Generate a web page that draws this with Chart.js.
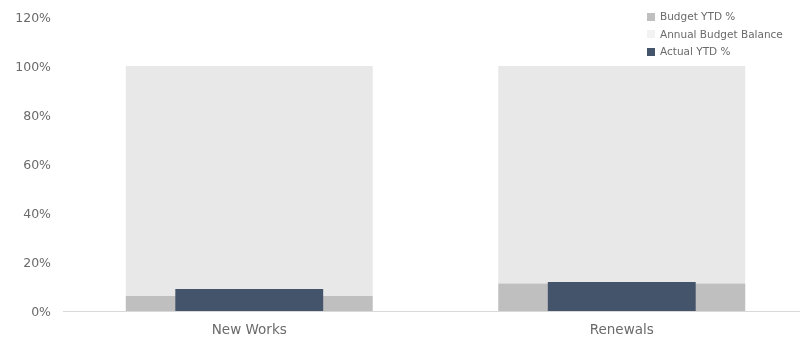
<!DOCTYPE html>
<html>
<head>
<meta charset="utf-8">
<script src="https://cdn.jsdelivr.net/npm/chart.js@4"></script>
<style>
  html, body { margin: 0; padding: 0; background: #fff; overflow: hidden; }
  #wrap { position: relative; width: 810px; height: 340px; }
  #legend { position: absolute; left: 647px; top: 8px; font: 10.5px "DejaVu Sans", sans-serif; color: #6a6a6a; }
  #legend .row { height: 17.5px; line-height: 17.5px; white-space: nowrap; }
  #legend .sw { display: inline-block; width: 8px; height: 8px; margin-right: 5px; vertical-align: -0.5px; }
</style>
</head>
<body>
<div id="wrap">
  <canvas id="c" width="810" height="340"></canvas>
  <div id="legend"></div>
</div>
<script>
// Categories and percentage values
const categories = ['New Works', 'Renewals'];
const budgetYtd = [6.1, 11.2];
const annualBudgetBalance = [93.9, 88.8];
const actualYtd = [9.0, 11.8];
const yTicks = [0, 20, 40, 60, 80, 100, 120];

const colors = {
  budget: '#bfbfbf',
  balance: '#e8e8e8',
  actual: '#44546a'
};

const data = {
  labels: categories,
  datasets: [
    { label: 'Budget YTD %', data: budgetYtd, backgroundColor: colors.budget, stack: 'budget',
      grouped: false, barPercentage: 0.663, categoryPercentage: 1, order: 2, legendColor: colors.budget },
    { label: 'Annual Budget Balance', data: annualBudgetBalance, backgroundColor: colors.balance, stack: 'budget',
      grouped: false, barPercentage: 0.663, categoryPercentage: 1, order: 2, legendColor: '#f2f2f2' },
    { label: 'Actual YTD %', data: actualYtd, backgroundColor: colors.actual, stack: 'actual',
      grouped: false, barPercentage: 0.397, categoryPercentage: 1, order: 0, legendColor: colors.actual }
  ]
};

const fontFamily = '"DejaVu Sans", sans-serif';

const chart = new Chart(document.getElementById('c'), {
  type: 'bar',
  data,
  options: {
    responsive: false,
    animation: false,
    events: [],
    layout: { padding: { top: 17, right: 2, bottom: 0, left: 0 } },
    plugins: { legend: { display: false }, tooltip: { enabled: false } },
    scales: {
      x: {
        stacked: false,
        grid: { display: false },
        border: { display: true, color: '#d9d9d9', width: 1 },
        ticks: { color: '#6a6a6a', font: { family: fontFamily, size: 13.5 }, padding: 3 },
        afterFit(scale) { scale.height = 29; }
      },
      y: {
        stacked: true,
        min: 0,
        max: 120,
        afterBuildTicks(scale) { scale.ticks = yTicks.map(v => ({ value: v })); },
        grid: { display: false },
        border: { display: false },
        ticks: { color: '#6a6a6a', font: { family: fontFamily, size: 12.5 }, padding: 4, labelOffset: 2,
                 callback: v => v + '%' },
        afterFit(scale) { scale.width = 63; }
      }
    }
  }
});

// Vertical legend built from the datasets
const legend = document.getElementById('legend');
data.datasets.forEach(ds => {
  const row = document.createElement('div');
  row.className = 'row';
  const sw = document.createElement('span');
  sw.className = 'sw';
  sw.style.background = ds.legendColor;
  row.appendChild(sw);
  row.appendChild(document.createTextNode(ds.label));
  legend.appendChild(row);
});
</script>
</body>
</html>
